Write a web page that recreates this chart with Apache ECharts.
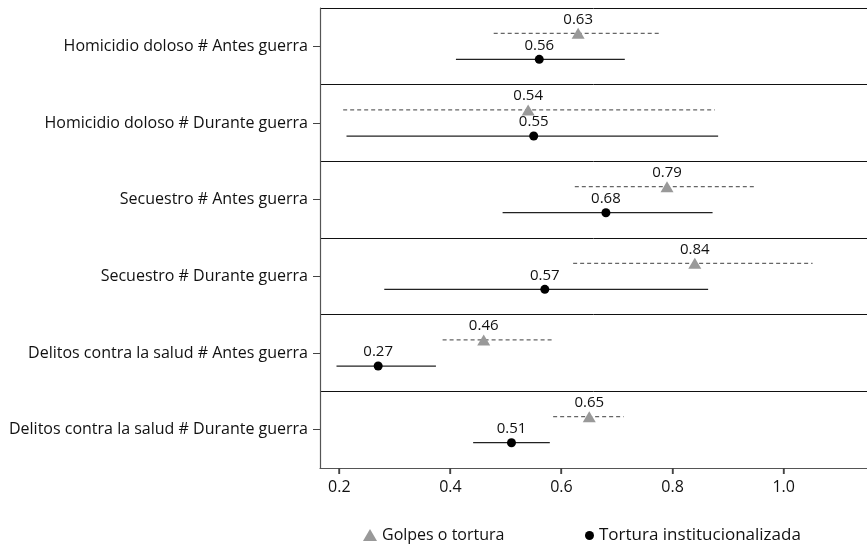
<!DOCTYPE html>
<html>
<head>
<meta charset="utf-8">
<script src="https://cdn.jsdelivr.net/npm/echarts@6/dist/echarts.min.js"></script>
<style>
html,body{margin:0;padding:0;background:#fff;}
#main{width:867px;height:546px;}
</style>
</head>
<body>
<div id="main"></div>
<script>
var categories = [
  'Homicidio doloso # Antes guerra',
  'Homicidio doloso # Durante guerra',
  'Secuestro # Antes guerra',
  'Secuestro # Durante guerra',
  'Delitos contra la salud # Antes guerra',
  'Delitos contra la salud # Durante guerra'
];
var seriesNames = ['Golpes o tortura', 'Tortura institucionalizada'];
var golpesValues = [0.63, 0.54, 0.79, 0.84, 0.46, 0.65];
var golpesLow    = [0.478, 0.207, 0.624, 0.621, 0.386, 0.585];
var golpesHigh   = [0.776, 0.876, 0.948, 1.052, 0.587, 0.712];
var torturaValues = [0.56, 0.55, 0.68, 0.57, 0.27, 0.51];
var torturaLow    = [0.410, 0.213, 0.494, 0.281, 0.195, 0.441];
var torturaHigh   = [0.714, 0.882, 0.872, 0.864, 0.374, 0.579];
var xTicks = [0.2, 0.4, 0.6, 0.8, 1.0];

var OFF = 0.17;
var FONT = 'Open Sans';

function pts(vals, sign) {
  return vals.map(function (v, i) { return [v, i + 0.5 + sign * OFF]; });
}
function ci(lo, hi, sign) {
  return lo.map(function (l, i) { return [l, hi[i], i + 0.5 + sign * OFF]; });
}
function ciSeries(data, color, dashed) {
  return {
    type: 'custom',
    yAxisIndex: 1,
    silent: true,
    z: 1,
    data: data,
    renderItem: function (params, api) {
      var a = api.coord([api.value(0), api.value(2)]);
      var b = api.coord([api.value(1), api.value(2)]);
      return {
        type: 'line',
        shape: { x1: a[0], y1: a[1], x2: b[0], y2: b[1] },
        style: { stroke: color, lineWidth: 1.2, lineDash: dashed ? [4, 3] : null }
      };
    }
  };
}

var chart = echarts.init(document.getElementById('main'));
chart.setOption({
  animation: false,
  textStyle: { fontFamily: FONT },
  grid: { left: 320, top: 8, right: 0, bottom: 78 },
  xAxis: {
    type: 'value',
    min: 0.1653,
    max: 1.15,
    position: 'bottom',
    axisLine: { show: true, onZero: false, lineStyle: { color: '#555', width: 1.2 } },
    axisTick: { show: true, length: 6, lineStyle: { color: '#444', width: 1.3 }, customValues: xTicks },
    axisLabel: {
      customValues: xTicks,
      color: '#111', fontSize: 16, fontFamily: FONT, margin: 11,
      formatter: function (v) { return v.toFixed(1); }
    },
    splitLine: { show: false }
  },
  yAxis: [{
    type: 'category',
    data: categories,
    inverse: true,
    boundaryGap: true,
    axisLine: { show: true, onZero: false, lineStyle: { color: '#555', width: 1.2 } },
    axisTick: { show: true, alignWithLabel: true, length: 7, lineStyle: { color: '#444' } },
    axisLabel: { color: '#111', fontSize: 16, fontFamily: FONT, margin: 12 },
    splitLine: { show: false }
  }, {
    type: 'value',
    min: 0, max: 6, interval: 1,
    inverse: true,
    position: 'left',
    axisLine: { show: false },
    axisTick: { show: false },
    axisLabel: { show: false },
    splitLine: { show: true, lineStyle: { color: '#111', width: 1 } }
  }],
  legend: [{
    data: [{ name: seriesNames[0], icon: 'triangle' }],
    left: 358, top: 522,
    itemWidth: 14, itemHeight: 12, itemGap: 9,
    textStyle: { fontSize: 16, color: '#111', fontFamily: FONT }
  }, {
    data: [{ name: seriesNames[1], icon: 'circle' }],
    left: 580, top: 522,
    itemWidth: 9, itemHeight: 9, itemGap: 9,
    textStyle: { fontSize: 17, color: '#111', fontFamily: FONT }
  }],
  series: [
    ciSeries(ci(golpesLow, golpesHigh, -1), '#666', true),
    ciSeries(ci(torturaLow, torturaHigh, 1), '#222', false),
    {
      name: seriesNames[0],
      type: 'scatter',
      yAxisIndex: 1,
      symbol: 'triangle',
      symbolSize: [13, 11],
      itemStyle: { color: '#999', opacity: 1 },
      z: 3,
      data: pts(golpesValues, -1),
      label: {
        show: true, position: 'top', distance: 1,
        color: '#111', fontSize: 15, fontFamily: FONT,
        formatter: function (p) { return p.value[0].toFixed(2); }
      }
    },
    {
      name: seriesNames[1],
      type: 'scatter',
      yAxisIndex: 1,
      symbol: 'circle',
      symbolSize: 9,
      itemStyle: { color: '#000', opacity: 1 },
      z: 3,
      data: pts(torturaValues, 1),
      label: {
        show: true, position: 'top', distance: 2,
        color: '#111', fontSize: 15, fontFamily: FONT,
        formatter: function (p) { return p.value[0].toFixed(2); }
      }
    }
  ]
});

// x-axis tick marks placed through the chart's own scales
try {
  var yBase = chart.convertToPixel({ yAxisIndex: 1 }, 6);
  var tickGraphics = xTicks.map(function (v) {
    var x = chart.convertToPixel({ xAxisIndex: 0 }, v);
    return {
      type: 'rect',
      silent: true,
      z: 100,
      shape: { x: Math.round(x) - 0.7, y: yBase, width: 1.4, height: 6 },
      style: { fill: '#444' }
    };
  });
  chart.setOption({ graphic: tickGraphics });
} catch (e) {}
</script>
</body>
</html>
